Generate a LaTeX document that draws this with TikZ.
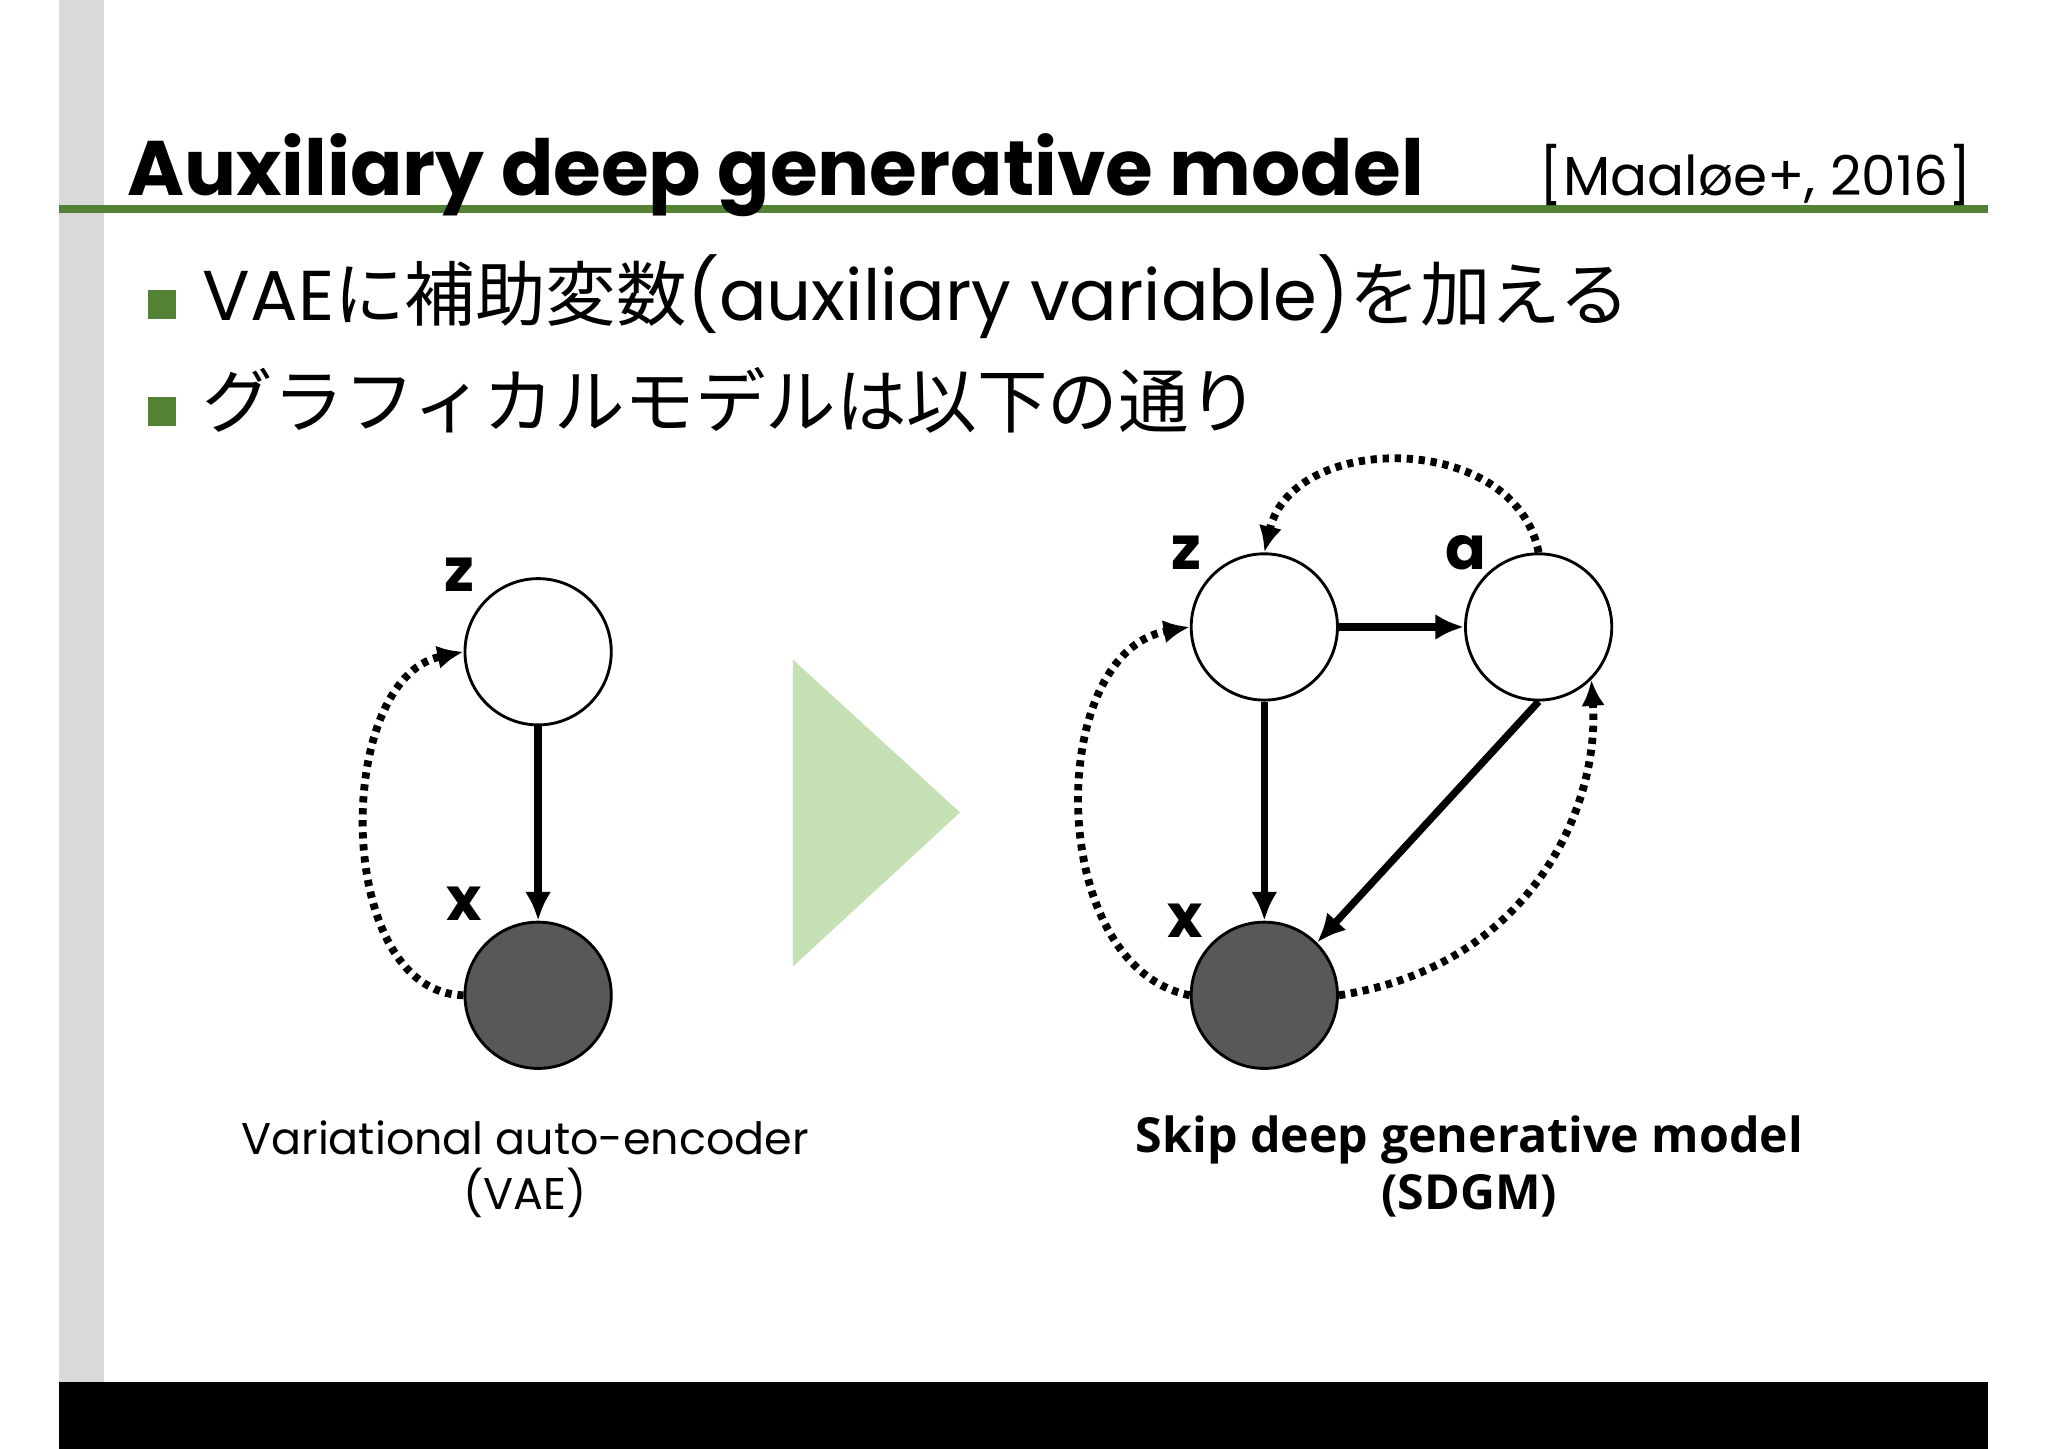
\documentclass[tikz,border=0pt]{standalone}
\usepackage{fontspec}
\setmainfont{Noto Sans CJK JP}
\newfontfamily\capb{Open Sans}
\newfontfamily\lat{Poppins}
\usetikzlibrary{arrows.meta}
\definecolor{grn}{HTML}{548235}
\definecolor{lgrn}{HTML}{C5E0B4}
\definecolor{dk}{HTML}{58575A}
\begin{document}
\begin{tikzpicture}[x=0.5pt,y=-0.5pt,
  vnode/.style={circle,draw=black,line width=1.1pt,minimum size=56pt,inner sep=0pt},
  lab/.style={font=\lat\fontsize{23}{26}\selectfont\bfseries},
  sol/.style={line width=2.8pt,-{Latex[length=11pt,width=10pt]}},
  dot/.style={line width=3pt,dash pattern=on 2.4pt off 2.2pt,-{Latex[length=10pt,width=9pt]}}]
\useasboundingbox (0,0) rectangle (1568,1109);
\fill[white] (0,0) rectangle (1568,1109);
\fill[black!15] (45,0) rectangle (80,1058);
\fill[black] (45,1058) rectangle (1522,1109);
\fill[grn] (45,157) rectangle (1522,163);
\node[anchor=base west,inner sep=0] (title) at (97,150) {\lat\fontsize{29.6}{34}\selectfont\bfseries Auxiliary deep generative model};
\node[anchor=base east,inner sep=0] (ref) at (1510,150) {\lat\fontsize{21}{24}\selectfont [Maaløe+, 2016]};
\fill[grn] (113,222) rectangle (135,244);
\fill[grn] (113,304) rectangle (135,326);
\node[anchor=base west,inner sep=0] (b1) at (155,245) {\fontsize{27}{30}\selectfont {\lat VAE}に補助変数{\lat (auxiliary variable)}を加える};
\node[anchor=base west,inner sep=0] (b2) at (155,327) {\fontsize{27}{30}\selectfont グラフィカルモデルは以下の通り};
% left graph
\node[vnode,fill=white] (lz) at (412,499) {};
\node[vnode,fill=dk] (lx) at (412,762) {};
\node[lab] (lzl) at (352,440) {z};
\node[lab] (lxl) at (355,692) {x};
\draw[sol] (lz) -- (lx);
\draw[dot] (lx.west) .. controls (255,760) and (255,520) .. (lz.west);
% triangle
\fill[lgrn] (607,505) -- (607,740) -- (735,622) -- cycle;
% right graph
\node[vnode,fill=white] (rz) at (968,480) {};
\node[vnode,fill=white] (ra) at (1178,480) {};
\node[vnode,fill=dk] (rx) at (968,762) {};
\node[lab] (rzl) at (908,423) {z};
\node[lab] (ral) at (1122,423) {a};
\node[lab] (rxl) at (907,705) {x};
\draw[sol] (rz) -- (ra);
\draw[sol] (rz) -- (rx);
\draw[sol] (ra.south) -- (rx.45);
\draw[dot] (ra.north) .. controls (1160,330) and (990,330) .. (rz.north);
\draw[dot] (rx.west) .. controls (800,740) and (800,500) .. (rz.west);
\draw[dot] (rx.east) .. controls (1170,740) and (1225,620) .. (ra.south east);
% captions
\node[align=center,font=\lat\fontsize{17}{21}\selectfont] (c1) at (402,895) {Variational auto-encoder\\(VAE)};
\node[align=center,font=\capb\fontsize{18.5}{22}\selectfont\bfseries] (c2) at (1125,893) {Skip deep generative model\\(SDGM)};
\end{tikzpicture}
\end{document}
